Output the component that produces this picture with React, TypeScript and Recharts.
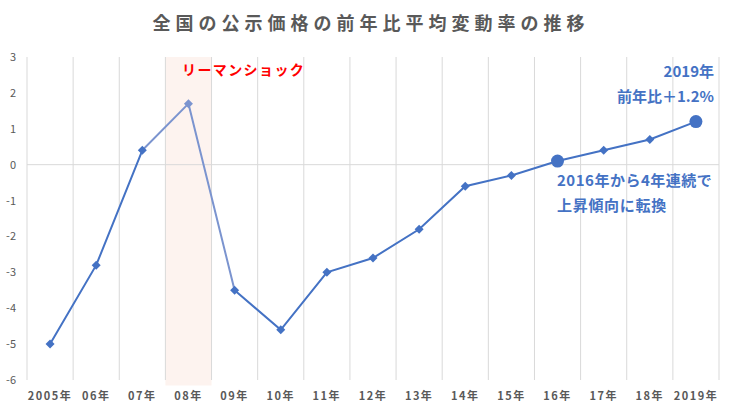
import React from 'react';
import { LineChart, Line, XAxis, YAxis, ReferenceLine, ReferenceArea } from 'recharts';

const YEARS = [
  '2005年', '06年', '07年', '08年', '09年', '10年', '11年', '12年',
  '13年', '14年', '15年', '16年', '17年', '18年', '2019年'
];
// 前年比平均変動率 (%)
const RATES = [-5, -2.8, 0.4, 1.7, -3.5, -4.6, -3.0, -2.6, -1.8, -0.6, -0.3, 0.1, 0.4, 0.7, 1.2];
const SHOCK_YEAR = '08年';
const BIG_POINTS = ['16年', '2019年'];
const Y_TICKS = [3, 2, 1, 0, -1, -2, -3, -4, -5, -6];

const BLUE = '#4472c4';
const LIGHT_BLUE = '#7b94cf';
const GRAY = '#595959';
const GRID = '#d9d9d9';
const FONT = '"Noto Sans CJK JP", "Noto Sans", sans-serif';

const shockIndex = YEARS.indexOf(SHOCK_YEAR);

const chartData = YEARS.map((year, i) => ({
  year,
  rate: year === SHOCK_YEAR ? null : RATES[i],
  shock: Math.abs(i - shockIndex) <= 1 ? RATES[i] : null,
}));

const diamond = (cx: number, cy: number, r: number, fill: string, key: string) => (
  <path key={key} d={`M${cx},${cy - r}L${cx + r},${cy}L${cx},${cy + r}L${cx - r},${cy}Z`} fill={fill} />
);

const renderMainDot = (props: any) => {
  const { cx, cy, payload, index } = props;
  const key = `dot-${index}`;
  if (cx == null || cy == null || payload.rate == null) return <g key={key} />;
  if (BIG_POINTS.includes(payload.year)) return <circle key={key} cx={cx} cy={cy} r={6.5} fill={BLUE} />;
  return diamond(cx, cy, 4.5, BLUE, key);
};

const renderShockDot = (props: any) => {
  const { cx, cy, payload, index } = props;
  const key = `sdot-${index}`;
  if (cx == null || cy == null || payload.year !== SHOCK_YEAR) return <g key={key} />;
  return diamond(cx, cy, 4.5, LIGHT_BLUE, key);
};

const XTick = (props: any) => {
  const { x, y, payload } = props;
  return (
    <text x={x} y={y} dy={12} textAnchor="middle" fill={GRAY} fontSize={11} fontWeight={700}
      fontFamily={FONT} style={{ letterSpacing: '1.5px' }}>
      {payload.value}
    </text>
  );
};

const YTick = (props: any) => {
  const { x, y, payload } = props;
  return (
    <text x={x - 3} y={y} dy={4} textAnchor="end" fill={GRAY} fontSize={11} fontFamily={FONT}>
      {payload.value}
    </text>
  );
};

const overlay = (style: React.CSSProperties, text: string) => (
  <div style={{ position: 'absolute', whiteSpace: 'nowrap', lineHeight: 1, fontFamily: FONT, ...style }}>{text}</div>
);

export default function App() {
  return (
    <div style={{ position: 'absolute', left: 0, top: 0, width: 732, height: 413, background: '#fff' }}>
      <LineChart width={732} height={413} data={chartData} margin={{ top: 57, right: 13, left: 0, bottom: 0 }}>
        <XAxis dataKey="year" scale="band" axisLine={false} tickLine={false} height={33} interval={0} tick={<XTick />} />
        <YAxis domain={[-6, 3]} ticks={Y_TICKS} width={27} axisLine={false} tickLine={false} interval={0} tick={<YTick />} />
        <ReferenceArea x1={SHOCK_YEAR} x2={SHOCK_YEAR} y1={-6.15} y2={3} fill="#fdf3ef" fillOpacity={1}
          stroke="none" ifOverflow="visible" />
        {YEARS.map((y) => (
          <ReferenceLine key={y} x={y} position="start" stroke={GRID} strokeWidth={1} />
        ))}
        <ReferenceLine x={YEARS[YEARS.length - 1]} position="end" stroke={GRID} strokeWidth={1} />
        <ReferenceLine y={0} stroke={GRID} strokeWidth={1} />
        <Line dataKey="shock" stroke={LIGHT_BLUE} strokeWidth={2} dot={renderShockDot} activeDot={false}
          isAnimationActive={false} connectNulls={false} />
        <Line dataKey="rate" stroke={BLUE} strokeWidth={2} dot={renderMainDot} activeDot={false}
          isAnimationActive={false} connectNulls={false} />
      </LineChart>
      {overlay({ left: 5, top: 13, width: 732, textAlign: 'center', fontSize: 18, fontWeight: 700, color: GRAY, letterSpacing: '5px' },
        '全国の公示価格の前年比平均変動率の推移')}
      {overlay({ left: 182, top: 62, fontSize: 14, fontWeight: 700, color: '#ff0000', letterSpacing: '1.4px' }, 'リーマンショック')}
      {overlay({ right: 18, top: 63, textAlign: 'right', fontSize: 15, fontWeight: 700, color: BLUE }, '2019年')}
      {overlay({ right: 18, top: 88, textAlign: 'right', fontSize: 15, fontWeight: 700, color: BLUE }, '前年比＋1.2%')}
      {overlay({ left: 557, top: 172, fontSize: 15, fontWeight: 700, color: BLUE, letterSpacing: '0.5px' }, '2016年から4年連続で')}
      {overlay({ left: 557, top: 197, fontSize: 15, fontWeight: 700, color: BLUE, letterSpacing: '0.7px' }, '上昇傾向に転換')}
    </div>
  );
}
